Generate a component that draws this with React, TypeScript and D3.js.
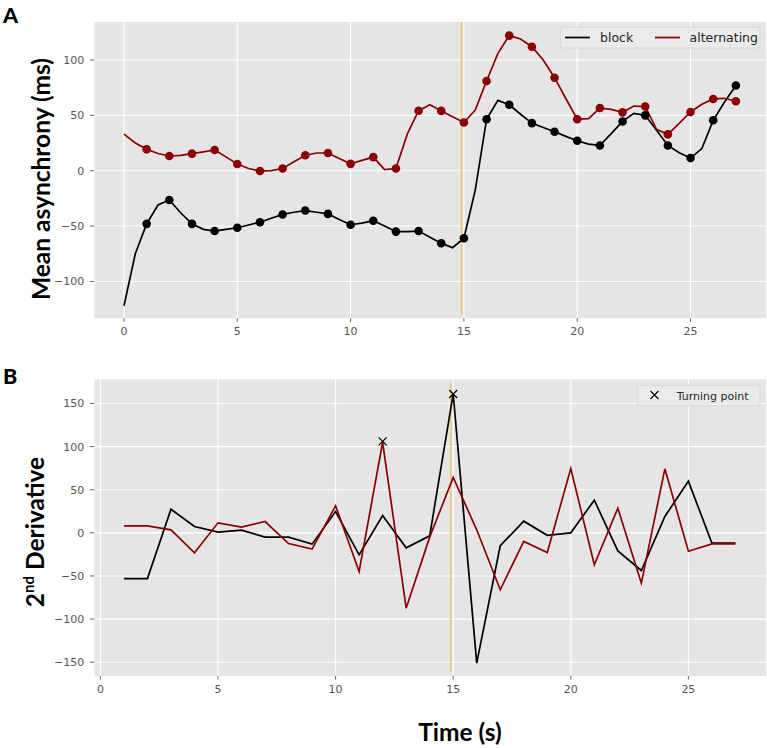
import React from "react";
import * as d3 from "d3";

// panel A: smoothed mean asynchrony, sampled every half second
const timesA = [
  0, 0.5, 1, 1.5, 2, 2.5, 3, 3.5, 4, 4.5, 5, 5.5, 6, 6.5, 7, 7.5, 8, 8.5, 9, 9.5,
  10, 10.5, 11, 11.5, 12, 12.5, 13, 13.5, 14, 14.5, 15, 15.5, 16, 16.5, 17, 17.5,
  18, 18.5, 19, 19.5, 20, 20.5, 21, 21.5, 22, 22.5, 23, 23.5, 24, 24.5, 25, 25.5,
  26, 26.5, 27,
];
const blockA = [
  -122, -75, -48, -31, -26.5, -38, -48, -53, -54.5, -53, -51.5, -49, -46.5, -43,
  -39.5, -37.5, -36, -37.5, -39, -44, -48.8, -47.3, -45.2, -50, -55, -55, -54.5,
  -60, -65.5, -69.5, -61, -17.5, 46.5, 63.5, 59.5, 51, 43, 39, 35.2, 31, 27, 24,
  22.8, 33.5, 44.5, 51.8, 50, 36.5, 22.8, 16.3, 11.4, 20, 45.5, 62, 77,
];
const alternatingA = [
  33, 25, 19.3, 15.5, 13.3, 13.8, 15.4, 17, 18.7, 12.5, 6, 2, -0.3, 0, 2, 8, 14,
  16, 16, 11, 6.2, 9.3, 12.3, 1, 2, 33, 54.2, 59.6, 54, 48.8, 43.5, 54.8, 81, 106,
  122, 119, 112, 100, 84, 65, 46.5, 47, 56.6, 55.4, 52.7, 58.4, 58, 37.3, 32.8,
  42.8, 53, 60, 64.8, 65.4, 62.7,
];

// panel B: second derivative per second
const timesB = [
  1, 2, 3, 4, 5, 6, 7, 8, 9, 10, 11, 12, 13, 14, 15, 16, 17, 18, 19, 20, 21, 22,
  23, 24, 25, 26, 27,
];
const blockB = [
  -53, -53, 27.4, 7.3, 0.8, 3.1, -5, -5, -13.1, 24.7, -25.5, 20.1, -17.4, -3.5,
  161, -151, -15, 13.5, -2.9, 0, 37.9, -20.9, -43.7, 18.9, 59.9, -12, -12,
];
const alternatingB = [
  8.1, 8.1, 3.5, -23.2, 11.6, 6.6, 13.1, -12.4, -18.9, 31.3, -44.8, 105, -87.4,
  -5, 64.2, 3.5, -66, -10, -22.8, 74.6, -37.1, 28.6, -58.4, 74.2, -21.3, -12.8,
  -12.8,
];
const turnTimes = [12, 15];
const turnValues = [106, 161];

const xTicks = [0, 5, 10, 15, 20, 25];
const yTicksA = [-100, -50, 0, 50, 100];
const yTicksB = [-150, -100, -50, 0, 50, 100, 150];
const switchTime = 14.9;

const RED = "#8b0000";
const BG = "#e5e5e5";
const TICK = "#555555";
const VLINE = "#f2c46e";
const tickFont = "'DejaVu Sans', sans-serif";
const labelFont = "Lato, 'Open Sans', sans-serif";

const left = 94.3;
const right = 766;

const xA = d3.scaleLinear().domain([-1.31, 28.33]).range([left, right]);
const yA = d3.scaleLinear().domain([-133.3, 134.3]).range([318.3, 22]);
const xB = d3.scaleLinear().domain([-0.26, 28.3]).range([left, right]);
const yB = d3.scaleLinear().domain([-166, 178]).range([676, 379.3]);

type Scale = d3.ScaleLinear<number, number>;

const Frame = ({ x, y, yTicks }: { x: Scale; y: Scale; yTicks: number[] }) => {
  const [x0, x1] = x.range();
  const [y1, y0] = y.range();
  return (
    <g>
      <rect x={x0} y={y0} width={x1 - x0} height={y1 - y0} fill={BG} />
      {xTicks.map((t) => (
        <line key={"gx" + t} x1={x(t)} x2={x(t)} y1={y0} y2={y1} stroke="#fff" strokeWidth={1.1} />
      ))}
      {yTicks.map((t) => (
        <line key={"gy" + t} x1={x0} x2={x1} y1={y(t)} y2={y(t)} stroke="#fff" strokeWidth={1.1} />
      ))}
      {xTicks.map((t) => (
        <g key={"tx" + t}>
          <line x1={x(t)} x2={x(t)} y1={y1} y2={y1 + 3.5} stroke={TICK} strokeWidth={0.9} />
          <text x={x(t)} y={y1 + 17} textAnchor="middle" fontSize={11} fill={TICK} fontFamily={tickFont}>
            {String(t)}
          </text>
        </g>
      ))}
      {yTicks.map((t) => (
        <g key={"ty" + t}>
          <line x1={x0 - 4.5} x2={x0} y1={y(t)} y2={y(t)} stroke={TICK} strokeWidth={0.9} />
          <text x={x0 - 10} y={y(t) + 4} textAnchor="end" fontSize={11} fill={TICK} fontFamily={tickFont}>
            {t < 0 ? "\u2212" + Math.abs(t) : String(t)}
          </text>
        </g>
      ))}
    </g>
  );
};

const App = () => {
  const lineA = (vals: number[]) =>
    d3.line<number>().x((_, i) => xA(timesA[i])).y((v) => yA(v))(vals) || "";
  const lineB = (vals: number[]) =>
    d3.line<number>().x((_, i) => xB(timesB[i])).y((v) => yB(v))(vals) || "";

  const marks = (vals: number[]) =>
    timesA.map((t, i) => ({ t, v: vals[i] })).filter((d) => d.t >= 1 && Number.isInteger(d.t));

  return (
    <div style={{ position: "absolute", left: 0, top: 0 }}>
      <svg width={767} height={748} style={{ display: "block", background: "#fff" }}>
        {/* panel A */}
        <Frame x={xA} y={yA} yTicks={yTicksA} />
        <line x1={xA(switchTime)} x2={xA(switchTime)} y1={yA(134.3)} y2={yA(-130)} stroke={VLINE} strokeWidth={1.5} />
        <path d={lineA(blockA)} fill="none" stroke="#000" strokeWidth={1.7} />
        <path d={lineA(alternatingA)} fill="none" stroke={RED} strokeWidth={1.7} />
        {marks(blockA).map((d) => (
          <circle key={"mb" + d.t} cx={xA(d.t)} cy={yA(d.v)} r={4.3} fill="#000" />
        ))}
        {marks(alternatingA).map((d) => (
          <circle key={"ma" + d.t} cx={xA(d.t)} cy={yA(d.v)} r={4.3} fill={RED} />
        ))}
        <rect x={560.7} y={27.3} width={199.3} height={20.7} rx={2} fill="#ebebeb" stroke="#d4d4d4" strokeWidth={0.8} />
        <line x1={565} x2={590} y1={37.5} y2={37.5} stroke="#000" strokeWidth={1.7} />
        <text x={600} y={42} fontSize={12.5} fill="#262626" fontFamily={tickFont}>block</text>
        <line x1={655} x2={680} y1={37.5} y2={37.5} stroke={RED} strokeWidth={1.7} />
        <text x={689.5} y={42} fontSize={12.5} fill="#262626" fontFamily={tickFont}>alternating</text>

        {/* panel B */}
        <Frame x={xB} y={yB} yTicks={yTicksB} />
        <line x1={xB(switchTime)} x2={xB(switchTime)} y1={yB(174)} y2={yB(-161)} stroke={VLINE} strokeWidth={1.5} />
        <path d={lineB(blockB)} fill="none" stroke="#000" strokeWidth={1.7} />
        <path d={lineB(alternatingB)} fill="none" stroke={RED} strokeWidth={1.7} />
        {turnTimes.map((t, i) => (
          <path
            key={"tp" + t}
            d={`M${xB(t) - 4},${yB(turnValues[i]) - 4}L${xB(t) + 4},${yB(turnValues[i]) + 4}M${xB(t) - 4},${yB(turnValues[i]) + 4}L${xB(t) + 4},${yB(turnValues[i]) - 4}`}
            stroke="#000"
            strokeWidth={1.2}
          />
        ))}
        <rect x={637.7} y={385.3} width={122.3} height={20.7} rx={2} fill="#ebebeb" stroke="#d4d4d4" strokeWidth={0.8} />
        <path d="M650.5,391L658.5,399M650.5,399L658.5,391" stroke="#000" strokeWidth={1.1} />
        <text x={676.7} y={399.5} fontSize={11} fill="#262626" fontFamily={tickFont}>Turning point</text>

        {/* labels */}
        <text x={3} y={23} fontSize={21.5} fontWeight={900} fontFamily={labelFont}>A</text>
        <text x={3} y={383.5} fontSize={21.5} fontWeight={900} fontFamily={labelFont}>B</text>
        <text
          transform="translate(50,179) rotate(-90)"
          textAnchor="middle"
          fontSize={24.5}
          fontWeight={700}
          fontFamily={labelFont}
        >
          Mean asynchrony (ms)
        </text>
        <text
          transform="translate(44,532) rotate(-90)"
          textAnchor="middle"
          fontSize={24.5}
          fontWeight={700}
          fontFamily={labelFont}
        >
          2<tspan fontSize={15} dy={-10}>nd</tspan>
          <tspan dy={10}> Derivative</tspan>
        </text>
        <text x={460} y={741} textAnchor="middle" fontSize={24.5} fontWeight={700} fontFamily={labelFont}>
          Time (s)
        </text>
      </svg>
    </div>
  );
};

export default App;
